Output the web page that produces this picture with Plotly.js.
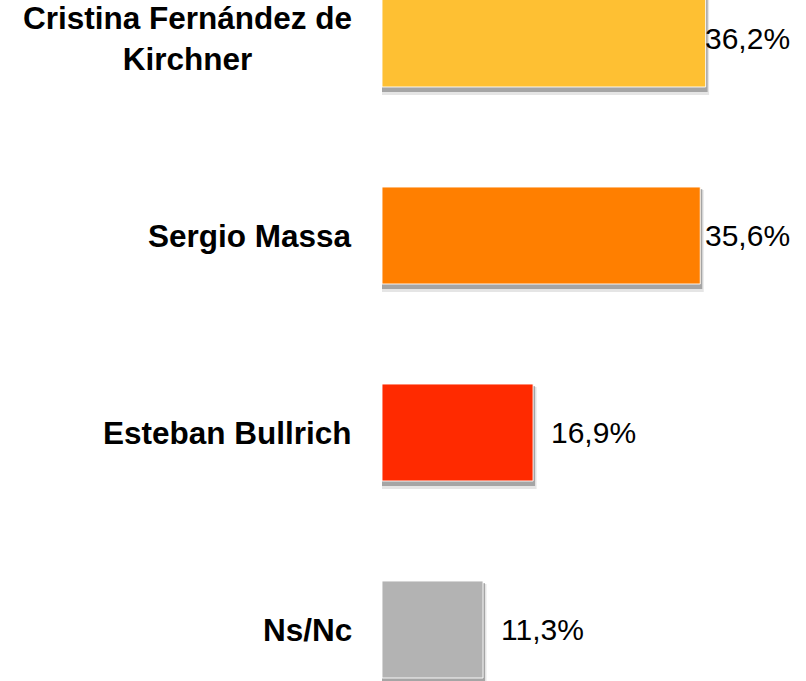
<!DOCTYPE html>
<html>
<head>
<meta charset="utf-8">
<script src="https://cdn.plot.ly/plotly-3.0.1.min.js"></script>
<style>html,body{margin:0;padding:0;background:#fff;}#chart{width:806px;height:681px;}</style>
</head>
<body>
<div id="chart"></div>
<script>
// Data (bottom-to-top order)
const categories = ["Ns/Nc", "Esteban Bullrich", "Sergio Massa", "Cristina Fernández de<br>Kirchner"];
const values = [11.3, 16.9, 35.6, 36.2];
const valueLabels = ["11,3%", "16,9%", "35,6%", "36,2%"];
const barColors = ["#B3B3B3", "#FF2A00", "#FF7F00", "#FEC033"];

const W = 806, H = 681;
const plotLeft = 382;
const xMax = 47.43;
const ppu = (W - plotLeft) / xMax;      // px per x unit
const yMin = -0.2614, yMax = 3.1954;
const ppy = H / (yMax - yMin);          // px per category unit
const barW = 97 / ppy;

const idx = categories.map((_, i) => i);

function shadow(dx, dTop, dBottom, color) {
  return {
    type: 'bar', orientation: 'h',
    y: idx, x: values.map(v => v + dx / ppu), base: 0,
    width: barW + (dBottom - dTop) / ppy,
    offset: -barW / 2 - dBottom / ppy,
    marker: {color: color, line: {width: 0}},
    hoverinfo: 'skip', showlegend: false
  };
}

const traces = [
  shadow(3.5, 3, 8, 'rgba(0,0,0,0.10)'),
  shadow(2, 2, 5, 'rgba(0,0,0,0.28)'),
  {
    type: 'bar', orientation: 'h',
    y: idx, x: values,
    width: barW, offset: -barW / 2,
    marker: {color: barColors, line: {color: 'rgba(255,255,255,0.9)', width: 1}},
    showlegend: false
  }
];

const annotations = [];
categories.forEach((c, i) => {
  annotations.push({
    xref: 'paper', yref: 'y', x: 0, y: i, xanchor: 'right', yanchor: 'middle',
    xshift: -28, text: '<b>' + c + '</b>', showarrow: false, align: 'center',
    font: {family: 'Arial, "Liberation Sans", sans-serif', size: 31.5, color: '#000'}
  });
  const endPx = values[i] * ppu;
  const labelW = 88;
  const rightLimit = 792 - plotLeft;
  let ann = {
    xref: 'x', yref: 'y', y: i, yanchor: 'middle', text: valueLabels[i], showarrow: false,
    font: {family: 'Arial, "Liberation Sans", sans-serif', size: 30, color: '#000'}
  };
  if (endPx + 16 + labelW > rightLimit) {
    ann.x = rightLimit / ppu; ann.xanchor = 'right';
  } else {
    ann.x = values[i]; ann.xanchor = 'left'; ann.xshift = 16;
  }
  annotations.push(ann);
});

const layout = {
  width: W, height: H,
  margin: {l: plotLeft, r: 0, t: 0, b: 0},
  paper_bgcolor: '#fff', plot_bgcolor: '#fff',
  barmode: 'overlay',
  showlegend: false,
  xaxis: {range: [0, xMax], showgrid: false, zeroline: false, showticklabels: false, showline: false, fixedrange: true},
  yaxis: {range: [yMin, yMax], showgrid: false, zeroline: false, showticklabels: false, showline: false, fixedrange: true},
  annotations: annotations
};

Plotly.newPlot('chart', traces, layout, {displayModeBar: false, staticPlot: true});
</script>
</body>
</html>
